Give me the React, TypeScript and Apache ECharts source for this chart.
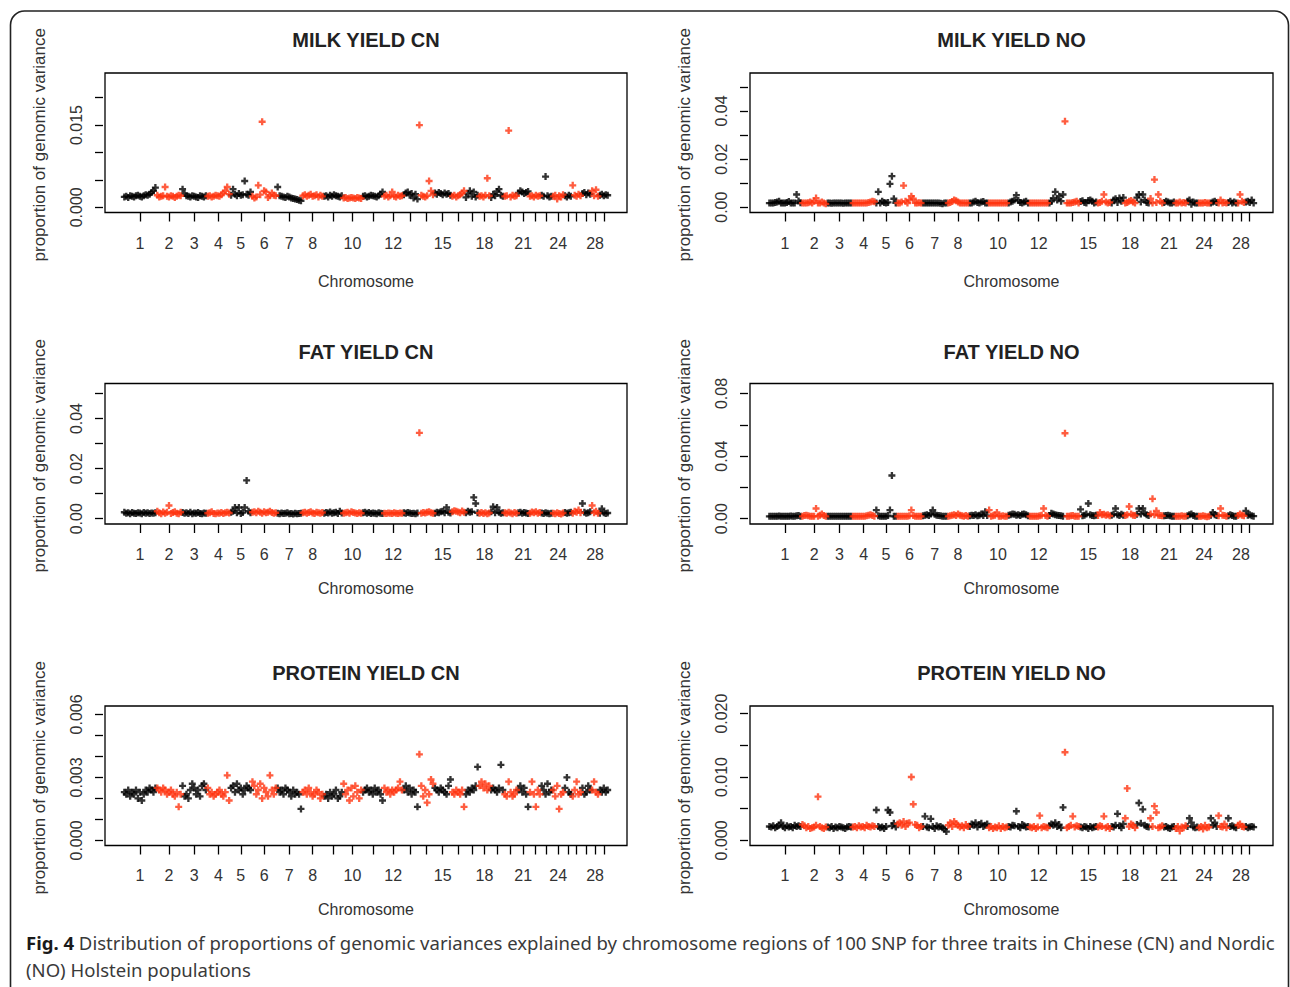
import React, { useEffect, useRef } from "react";
import * as echarts from "echarts";

// ---------- DATA (values in units of 1e-4 of the genomic variance) ----------
const UNIT = 1e-4;

const chromosomes = ["1","2","3","4","5","6","7","8","9","10","11","12","13","14","15","16","17","18","19","20","21","22","23","24","25","26","27","28","29"];
const labeledChromosomes = ["1","2","3","4","5","6","7","8","10","12","15","18","21","24","28"];

const milkCN: number[][] = [
  [19,20,18,21,20,19,21,22,20,19,21,23,22,24,27,30,36],
  [22,19,20,21,37,20,19,21,20,18,20,22,21],
  [33,25,21,20,19,21,20,19,18,21,20,19,21],
  [20,21,19,20,22,21,20,23,26,30,37,24],
  [22,33,24,21,25,22,23,48,24,22,28],
  [20,17,19,40,23,156,30,28,18,21,26,22,21],
  [37,21,20,19,18,20,19,17,16,15,14,13,12],
  [21,23,20,22,24,20,21,23,19,22,20],
  [20,21,19,22,20,23,21,20,19,21],
  [17,18,16,17,18,17,16,18,17,16],
  [20,21,19,20,22,21,20,19,21,24,28],
  [20,22,19,21,28,20,19,22,20,21],
  [23,26,28,22,25,17,24,15],
  [150,22,20,19,21,48,30,23],
  [26,24,27,25,23,26,24,25,22],
  [20,22,19,21,23,26,30],
  [18,25,30,20,28,19,22],
  [20,21,19,22,53,21],
  [18,24,21,29,33,22,20],
  [20,21,140,19,22,20,21],
  [26,30,28,25,27,29],
  [20,21,19,22,20,21],
  [22,20,56,21,19,20],
  [20,22,15,21,19,23],
  [21,19,22,20],
  [40,22,20,24,21],
  [25,27,23,26,24],
  [30,21,32,20],
  [22,24,21,23,22],
];

const milkNO: number[][] = [
  [17,17,18,20,22,25,18,17,17,20,24,17,18,17,53,26,19],
  [17,18,17,19,22,17,25,38,18,17,22,17,14],
  [17,17,16,17,17,18,17,17,16,17,17,17,17],
  [17,17,17,17,17,17,17,18,20,22,25,23],
  [18,64,17,25,20,17,20,97,129,35,18],
  [17,18,22,90,25,17,30,46,35,18,17,19,17],
  [17,17,18,17,17,17,18,17,17,16,14,17,17],
  [17,20,24,30,27,22,18,17,17,18,17],
  [17,18,22,25,20,18,22,24,18,17],
  [17,17,17,17,17,17,17,18,17,17],
  [17,22,25,30,50,28,20,17,22,25,17],
  [17,17,17,17,17,17,17,17,17,17],
  [17,24,38,64,30,46,25,53],
  [357,17,17,18,20,22,25,17],
  [24,27,20,17,28,30,25,18,22],
  [17,20,25,53,22,18,20],
  [17,30,35,20,38,25,40],
  [17,20,25,28,22,17],
  [40,53,22,53,30,20,17],
  [36,17,115,20,53,25,18],
  [20,25,22,18,17,22],
  [17,18,22,17,20,17],
  [25,30,12,22,18,17],
  [17,18,17,20,17,18],
  [17,22,25,20],
  [17,30,17,20,18],
  [20,25,18,22,17],
  [17,53,25,20],
  [22,25,20,30,17],
];

const fatCN: number[][] = [
  [26,22,24,20,25,22,21,24,23,20,25,22,24,21,23,22,24],
  [30,24,20,27,22,26,53,21,25,28,22,20,26],
  [25,22,24,21,26,20,23,22,25,21,20,23,22],
  [22,24,28,21,20,23,22,25,21,24,26,23],
  [26,30,45,24,45,21,25,45,153,30,24],
  [26,28,24,30,26,22,28,24,26,30,25,22,24],
  [22,20,23,21,22,24,20,21,19,22,20,21,22],
  [24,26,22,25,28,23,21,26,24,22,25],
  [22,25,23,27,22,24,26,21,30,23],
  [22,24,26,22,28,25,23,21,24,22],
  [24,26,22,25,21,23,22,20,24,22,21],
  [22,21,23,22,21,24,22,21,23,22],
  [24,22,25,23,21,22,20,23],
  [343,22,25,23,26,28,24,22],
  [22,26,24,28,30,24,45,26,23],
  [28,32,30,27,24,31,26],
  [24,30,26,28,85,61,24],
  [22,25,21,24,20,23],
  [28,48,24,45,26,22,24],
  [24,22,26,23,20,25,22],
  [24,26,22,25,23,21],
  [22,27,24,28,22,25],
  [23,21,24,22,20,22],
  [22,20,24,21,19,23],
  [25,22,24,26],
  [22,30,26,35,24],
  [61,26,22,24,28],
  [53,24,30,22],
  [22,40,24,21,23],
];

const fatNO: number[][] = [
  [15,15,16,15,15,17,15,15,16,15,15,17,15,15,18,20,16],
  [15,20,22,18,15,15,16,65,15,22,30,20,15],
  [15,15,16,15,15,15,16,15,15,15,16,15,15],
  [15,15,16,15,15,15,16,18,22,25,20,16],
  [55,18,15,15,15,15,20,55,276,15,15],
  [15,15,16,15,15,15,18,55,20,15,16,15,15],
  [18,22,25,20,30,55,28,22,20,18,16,15,16],
  [15,18,22,25,20,30,22,18,16,20,15],
  [18,22,20,25,18,22,30,20,45,20],
  [55,15,18,22,40,16,15,18,15,16],
  [22,25,30,28,22,25,20,28,30,25,18],
  [15,15,16,15,15,18,22,65,20,16],
  [20,35,30,25,22,20,18,16],
  [546,15,16,18,20,15,16,15],
  [60,18,22,30,97,25,20,18,22],
  [20,40,25,28,22,25,18],
  [22,30,65,25,20,28,22],
  [20,25,78,30,22,20],
  [28,65,30,65,35,25,20],
  [30,127,25,50,22,20,18],
  [18,20,22,18,15,16],
  [15,16,15,18,15,16],
  [18,25,30,20,16,15],
  [15,16,18,15,12,15],
  [22,40,25,20],
  [18,65,22,20,16],
  [18,25,20,16,15],
  [20,30,22,18],
  [50,22,25,18,16],
];

const proteinCN: number[][] = [
  [23,22,24,21,23,22,24,20,23,19,22,24,23,25,24,23,25],
  [25,24,23,25,24,22,23,24,22,21,23,16,22],
  [26,21,22,20,24,27,25,22,24,21,26,27,24],
  [25,22,23,21,22,23,24,22,21,23,31,19],
  [25,26,23,27,24,25,22,24,26,25,24],
  [28,26,22,24,27,20,25,23,21,31,24,22,25],
  [25,23,24,22,25,24,23,21,24,22,23,22,15],
  [23,24,22,25,23,21,22,24,23,20,22],
  [21,22,20,23,21,22,24,20,21,23],
  [27,22,24,19,25,21,26,23,20,24],
  [23,24,25,23,24,22,25,23,24,22,19],
  [25,23,24,22,24,23,24,25,28,24],
  [24,26,23,25,22,24,23,16],
  [41,26,21,24,18,22,29,27],
  [25,24,23,25,24,23,22,26,29],
  [23,22,24,23,22,24,16],
  [22,24,23,25,24,26,35],
  [26,28,25,27,24,26],
  [24,25,24,23,25,36,24],
  [22,21,28,23,21,22,24],
  [24,26,23,25,22,16],
  [23,28,22,16,24,22],
  [26,24,22,27,23,24],
  [24,21,26,15,22,23],
  [25,30,23,22],
  [21,24,28,22,23],
  [25,22,23,26,24],
  [24,28,23,22],
  [24,23,25,23,24],
];

const proteinNO: number[][] = [
  [22,21,23,20,22,24,28,22,20,23,21,22,20,24,22,23,22],
  [25,23,20,22,19,20,21,24,69,22,20,19,21],
  [21,20,22,19,21,20,22,21,20,19,21,22,21],
  [21,22,20,23,21,22,20,24,22,21,23,22],
  [48,22,20,21,19,22,48,44,23,27,21],
  [26,28,24,30,22,27,28,100,57,25,24,20,22],
  [22,38,21,20,34,22,19,23,21,22,20,18,14],
  [24,28,22,30,26,24,21,23,20,25,22],
  [22,26,24,28,21,25,27,22,24,26],
  [20,22,19,21,20,23,19,22,20,21],
  [22,21,24,23,46,22,20,25,23,21,22],
  [21,20,22,19,21,39,20,22,21,20],
  [23,26,24,28,22,25,20,52],
  [139,20,22,24,38,21,23,22],
  [21,20,22,21,19,22,20,21,22],
  [21,23,22,38,20,22,19],
  [22,21,24,42,23,20,26],
  [35,82,22,26,24,20],
  [25,59,27,49,24,22,21],
  [35,22,54,44,20,21,23],
  [21,22,20,19,21,22],
  [19,22,15,21,20,23],
  [22,35,28,21,20,21],
  [20,22,18,24,20,21],
  [35,24,28,22],
  [39,22,21,26,20],
  [35,22,23,21,20],
  [24,26,22,21],
  [22,20,21,22,21],
];

// y-axis ranges, tick values and labelled tick values per panel
const yRanges: number[][] = [
  [-0.00095, 0.0245],
  [-0.0022, 0.0558],
  [-0.0021, 0.054],
  [-0.0034, 0.0864],
  [-0.00024, 0.0064],
  [-0.0008, 0.0212],
];
const yTicks: number[][] = [
  [0, 0.005, 0.01, 0.015, 0.02],
  [0, 0.01, 0.02, 0.03, 0.04, 0.05],
  [0, 0.01, 0.02, 0.03, 0.04, 0.05],
  [0, 0.02, 0.04, 0.06, 0.08],
  [0, 0.001, 0.002, 0.003, 0.004, 0.005, 0.006],
  [0, 0.005, 0.01, 0.015, 0.02],
];
const yLabels: number[][] = [
  [0, 0.015],
  [0, 0.02, 0.04],
  [0, 0.02, 0.04],
  [0, 0.04, 0.08],
  [0, 0.003, 0.006],
  [0, 0.01, 0.02],
];
const yDigits = [3, 2, 2, 2, 3, 3];
const titles = ["MILK YIELD CN", "MILK YIELD NO", "FAT YIELD CN", "FAT YIELD NO", "PROTEIN YIELD CN", "PROTEIN YIELD NO"];
const panelValues = [milkCN, milkNO, fatCN, fatNO, proteinCN, proteinNO];

const captionBold = "Fig. 4";
const captionLine1 = " Distribution of proportions of genomic variances explained by chromosome regions of 100 SNP for three traits in Chinese (CN) and Nordic";
const captionLine2 = "(NO) Holstein populations";

// ---------- LAYOUT / STYLE ----------
const FONT = "'Liberation Sans', Arial, sans-serif";
const CAP_FONT = "'Noto Sans', 'Open Sans', sans-serif";
const COL_LEFT = [105, 750];
const COL_W = [522, 523];
const ROW_TOP = [73, 383.5, 706];
const ROW_H = [139.5, 140.5, 139.5];
const TITLE_Y = [40, 352, 672.5];
const XNAME_Y = [281, 588, 909];
const XLABEL_MARGIN = [23, 22.5, 22];
const RED = "#ff3510";
const PLUS = "path://M2,0H4V2H6V4H4V6H2V4H0V2H2Z";

function buildPoints(values: number[][]) {
  const odd: number[][] = [];
  const even: number[][] = [];
  const mids: number[] = [];
  let idx = 0;
  values.forEach((vals, c) => {
    const start = idx;
    vals.forEach((v) => {
      (c % 2 === 0 ? odd : even).push([idx, v * UNIT]);
      idx++;
    });
    mids.push((start + idx - 1) / 2);
  });
  return { odd, even, mids, n: idx };
}

function nearestIndex(arr: number[], v: number) {
  let best = 0;
  let bd = Infinity;
  arr.forEach((a, i) => {
    const d = Math.abs(a - v);
    if (d < bd) { bd = d; best = i; }
  });
  return best;
}

function buildOption() {
  const grid: any[] = [];
  const xAxis: any[] = [];
  const yAxis: any[] = [];
  const series: any[] = [];
  const graphic: any[] = [];

  graphic.push({
    type: "rect",
    shape: { x: 10.5, y: 11, width: 1278, height: 1000, r: 14 },
    style: { fill: "none", stroke: "#222", lineWidth: 1.6 },
    silent: true,
  });

  panelValues.forEach((values, i) => {
    const col = i % 2;
    const row = Math.floor(i / 2);
    const left = COL_LEFT[col];
    const width = COL_W[col];
    const top = ROW_TOP[row];
    const height = ROW_H[row];
    const { odd, even, mids, n } = buildPoints(values);
    const labelMids = mids.filter((_, c) => labeledChromosomes.includes(chromosomes[c]));
    const digits = yDigits[i];

    grid.push({ left, top, width, height, show: true, borderColor: "#000", borderWidth: 1.3, backgroundColor: "transparent" });

    xAxis.push({
      type: "value",
      gridIndex: i,
      min: -0.04 * (n - 1),
      max: 1.04 * (n - 1),
      axisLine: { show: false, onZero: false },
      splitLine: { show: false },
      axisTick: { show: true, customValues: mids, length: 9, lineStyle: { color: "#000", width: 1.3 } },
      axisLabel: {
        customValues: labelMids,
        margin: XLABEL_MARGIN[row],
        fontSize: 16,
        fontFamily: FONT,
        color: "#333",
        formatter: (v: number) => chromosomes[nearestIndex(mids, v)],
      },
    });

    yAxis.push({
      type: "value",
      gridIndex: i,
      min: yRanges[i][0],
      max: yRanges[i][1],
      offset: 2,
      axisLine: { show: false, onZero: false },
      splitLine: { show: false },
      axisTick: { show: true, customValues: yTicks[i], length: 8, lineStyle: { color: "#000", width: 1.3 } },
      axisLabel: {
        customValues: yLabels[i],
        rotate: 90,
        margin: 19,
        fontSize: 16,
        fontFamily: FONT,
        color: "#333",
        formatter: (v: number) => v.toFixed(digits),
      },
    });

    series.push({
      type: "scatter",
      xAxisIndex: i,
      yAxisIndex: i,
      data: odd,
      symbol: PLUS,
      symbolSize: 7,
      itemStyle: { color: "#000" },
      silent: true,
    });
    series.push({
      type: "scatter",
      xAxisIndex: i,
      yAxisIndex: i,
      data: even,
      symbol: PLUS,
      symbolSize: 7,
      itemStyle: { color: RED },
      silent: true,
    });

    graphic.push({
      type: "text",
      x: left + width / 2,
      y: TITLE_Y[row],
      style: { text: titles[i], fontSize: 20, fontWeight: "bold", fontFamily: FONT, fill: "#222", align: "center", verticalAlign: "middle" },
      silent: true,
    });
    graphic.push({
      type: "text",
      x: left + width / 2,
      y: XNAME_Y[row],
      style: { text: "Chromosome", fontSize: 16, fontFamily: FONT, fill: "#333", align: "center", verticalAlign: "middle" },
      silent: true,
    });
    graphic.push({
      type: "text",
      x: left - 66,
      y: top + height / 2 + 2,
      rotation: Math.PI / 2,
      style: { text: "proportion of genomic variance", fontSize: 17, fontFamily: FONT, fill: "#333", align: "center", verticalAlign: "middle" },
      silent: true,
    });
  });

  graphic.push({
    type: "text",
    x: 26,
    y: 942,
    style: {
      text: "{b|" + captionBold + "}" + captionLine1,
      fontSize: 18.55,
      fontFamily: CAP_FONT,
      fill: "#3a3a3a",
      verticalAlign: "middle",
      rich: { b: { fontWeight: "bold", fontSize: 18.55, fontFamily: CAP_FONT, fill: "#1a1a1a" } },
    },
    silent: true,
  });
  graphic.push({
    type: "text",
    x: 26,
    y: 969,
    style: { text: captionLine2, fontSize: 18.55, fontFamily: CAP_FONT, fill: "#3a3a3a", verticalAlign: "middle" },
    silent: true,
  });

  return { animation: false, backgroundColor: "#fff", grid, xAxis, yAxis, series, graphic };
}

export default function App() {
  const ref = useRef<HTMLDivElement>(null);
  useEffect(() => {
    const chart = echarts.init(ref.current as HTMLDivElement, null, { renderer: "svg" });
    chart.setOption(buildOption() as any);
    return () => chart.dispose();
  }, []);
  return <div ref={ref} style={{ position: "fixed", left: 0, top: 0, width: 1290, height: 987, background: "#fff" }} />;
}
